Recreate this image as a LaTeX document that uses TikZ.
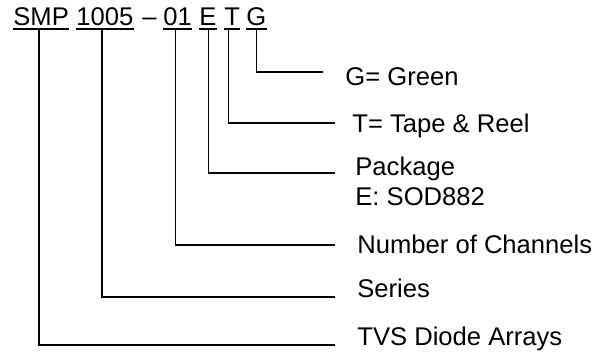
\documentclass[tikz,border=0pt]{standalone}
\usepackage{fontspec}
\setmainfont{Liberation Sans}
\usetikzlibrary{positioning}

\begin{document}
\begin{tikzpicture}[
  x=0.5pt, y=-0.5pt,
  every node/.style={font=\fontsize{12.8}{15}\selectfont},
  code/.style={anchor=base west, inner sep=0pt},
  lbl/.style={anchor=base west, inner sep=0pt, align=left},
  lead/.style={line width=0.7pt, black},
  uline/.style={line width=0.6pt, black}
]
\useasboundingbox (0,0) rectangle (609,353);

% ---- PART NUMBER ----
\node[code] (smp) at (13,26) {SMP};
\node[code] (ser) at (76,26) {1005};
\node[code] (dash) at (142,26) {\textendash};
\node[code] (ch) at (163,26) {01};
\node[code] (pk) at (199,26) {E};
\node[code] (tr) at (224,26) {T};
\node[code] (gr) at (246,26) {G};
\foreach \n in {smp,ser,ch,pk,tr,gr}
  \draw[uline] ([yshift=-1.5pt]\n.base west) -- ([yshift=-1.5pt]\n.base east);

% ---- LABELS ----
\node[lbl] (green) at (345,85) {G= Green};
\node[lbl] (tape) at (352,132) {T= Tape \& Reel};
\node[lbl] (pack) at (355,205) {Package\\E: SOD882};
\node[lbl] (chan) at (357,253) {Number of Channels};
\node[lbl] (series) at (357,297) {Series};
\node[lbl] (tvs) at (357,345) {TVS Diode Arrays};

% line ends
\coordinate (greenend) at (323,72);
\coordinate (tapeend) at (335,123);
\coordinate (packend) at (335,173);
\coordinate (chanend) at (335,245);
\coordinate (seriesend) at (335,297);
\coordinate (tvsend) at (335,345);

% ---- LEADERS ----
\draw[lead] ([yshift=-1.5pt]gr.base) |- (greenend);
\draw[lead] ([xshift=-1.8pt,yshift=-1.5pt]tr.base) |- (tapeend);
\draw[lead] ([xshift=0.3pt,yshift=-1.5pt]pk.base) |- (packend);
\draw[lead] ([xshift=-1pt,yshift=-1.5pt]ch.base) |- (chanend);
\draw[lead] ([xshift=-1.4pt,yshift=-1.5pt]ser.base) |- (seriesend);
\draw[lead] ([xshift=-1pt,yshift=-1.5pt]smp.base) |- (tvsend);
\end{tikzpicture}
\end{document}
